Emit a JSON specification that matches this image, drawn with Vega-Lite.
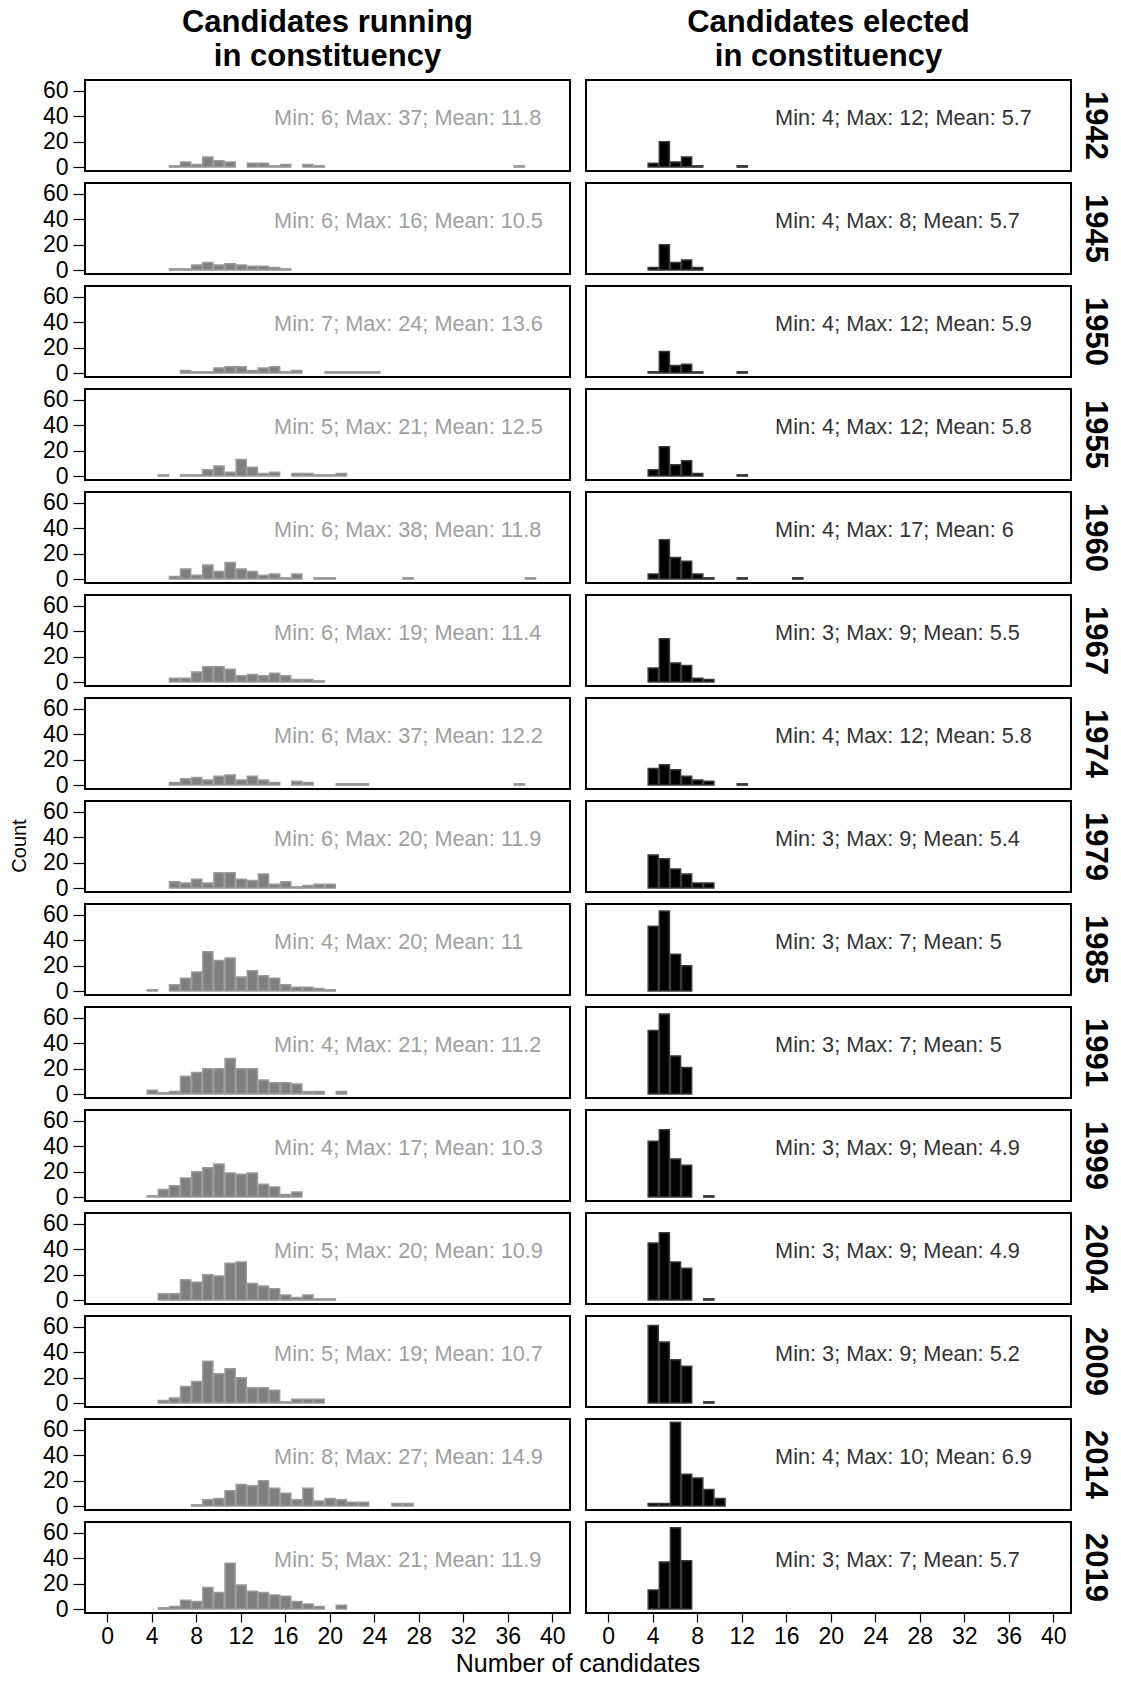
{
"$schema": "https://vega.github.io/schema/vega-lite/v6.json",
"background": "white",
"bounds": "flush",
"padding": {"left": 10, "top": 7, "right": 2, "bottom": 0},
"data": {"values": [
{"year":1942,"type":"running","candidates":6,"count":1},{"year":1942,"type":"running","candidates":7,"count":4},{"year":1942,"type":"running","candidates":8,"count":2},{"year":1942,"type":"running","candidates":9,"count":8},{"year":1942,"type":"running","candidates":10,"count":5},{"year":1942,"type":"running","candidates":11,"count":4},{"year":1942,"type":"running","candidates":13,"count":3},{"year":1942,"type":"running","candidates":14,"count":3},{"year":1942,"type":"running","candidates":15,"count":1},{"year":1942,"type":"running","candidates":16,"count":2},{"year":1942,"type":"running","candidates":18,"count":2},{"year":1942,"type":"running","candidates":19,"count":1},{"year":1942,"type":"running","candidates":37,"count":1},
{"year":1945,"type":"running","candidates":6,"count":1},{"year":1945,"type":"running","candidates":7,"count":1},{"year":1945,"type":"running","candidates":8,"count":4},{"year":1945,"type":"running","candidates":9,"count":6},{"year":1945,"type":"running","candidates":10,"count":4},{"year":1945,"type":"running","candidates":11,"count":5},{"year":1945,"type":"running","candidates":12,"count":4},{"year":1945,"type":"running","candidates":13,"count":3},{"year":1945,"type":"running","candidates":14,"count":3},{"year":1945,"type":"running","candidates":15,"count":2},{"year":1945,"type":"running","candidates":16,"count":1},
{"year":1950,"type":"running","candidates":7,"count":2},{"year":1950,"type":"running","candidates":8,"count":1},{"year":1950,"type":"running","candidates":9,"count":1},{"year":1950,"type":"running","candidates":10,"count":4},{"year":1950,"type":"running","candidates":11,"count":5},{"year":1950,"type":"running","candidates":12,"count":5},{"year":1950,"type":"running","candidates":13,"count":2},{"year":1950,"type":"running","candidates":14,"count":4},{"year":1950,"type":"running","candidates":15,"count":5},{"year":1950,"type":"running","candidates":16,"count":1},{"year":1950,"type":"running","candidates":17,"count":2},{"year":1950,"type":"running","candidates":20,"count":1},{"year":1950,"type":"running","candidates":21,"count":1},{"year":1950,"type":"running","candidates":22,"count":1},{"year":1950,"type":"running","candidates":23,"count":1},{"year":1950,"type":"running","candidates":24,"count":1},
{"year":1955,"type":"running","candidates":5,"count":1},{"year":1955,"type":"running","candidates":7,"count":1},{"year":1955,"type":"running","candidates":8,"count":1},{"year":1955,"type":"running","candidates":9,"count":5},{"year":1955,"type":"running","candidates":10,"count":8},{"year":1955,"type":"running","candidates":11,"count":3},{"year":1955,"type":"running","candidates":12,"count":13},{"year":1955,"type":"running","candidates":13,"count":7},{"year":1955,"type":"running","candidates":14,"count":2},{"year":1955,"type":"running","candidates":15,"count":3},{"year":1955,"type":"running","candidates":17,"count":2},{"year":1955,"type":"running","candidates":18,"count":2},{"year":1955,"type":"running","candidates":19,"count":1},{"year":1955,"type":"running","candidates":20,"count":1},{"year":1955,"type":"running","candidates":21,"count":2},
{"year":1960,"type":"running","candidates":6,"count":2},{"year":1960,"type":"running","candidates":7,"count":8},{"year":1960,"type":"running","candidates":8,"count":3},{"year":1960,"type":"running","candidates":9,"count":11},{"year":1960,"type":"running","candidates":10,"count":6},{"year":1960,"type":"running","candidates":11,"count":13},{"year":1960,"type":"running","candidates":12,"count":8},{"year":1960,"type":"running","candidates":13,"count":6},{"year":1960,"type":"running","candidates":14,"count":3},{"year":1960,"type":"running","candidates":15,"count":4},{"year":1960,"type":"running","candidates":16,"count":1},{"year":1960,"type":"running","candidates":17,"count":4},{"year":1960,"type":"running","candidates":19,"count":1},{"year":1960,"type":"running","candidates":20,"count":1},{"year":1960,"type":"running","candidates":27,"count":1},{"year":1960,"type":"running","candidates":38,"count":1},
{"year":1967,"type":"running","candidates":6,"count":3},{"year":1967,"type":"running","candidates":7,"count":3},{"year":1967,"type":"running","candidates":8,"count":8},{"year":1967,"type":"running","candidates":9,"count":12},{"year":1967,"type":"running","candidates":10,"count":12},{"year":1967,"type":"running","candidates":11,"count":10},{"year":1967,"type":"running","candidates":12,"count":5},{"year":1967,"type":"running","candidates":13,"count":6},{"year":1967,"type":"running","candidates":14,"count":5},{"year":1967,"type":"running","candidates":15,"count":7},{"year":1967,"type":"running","candidates":16,"count":5},{"year":1967,"type":"running","candidates":17,"count":2},{"year":1967,"type":"running","candidates":18,"count":2},{"year":1967,"type":"running","candidates":19,"count":1},
{"year":1974,"type":"running","candidates":6,"count":2},{"year":1974,"type":"running","candidates":7,"count":5},{"year":1974,"type":"running","candidates":8,"count":6},{"year":1974,"type":"running","candidates":9,"count":4},{"year":1974,"type":"running","candidates":10,"count":7},{"year":1974,"type":"running","candidates":11,"count":8},{"year":1974,"type":"running","candidates":12,"count":4},{"year":1974,"type":"running","candidates":13,"count":7},{"year":1974,"type":"running","candidates":14,"count":4},{"year":1974,"type":"running","candidates":15,"count":2},{"year":1974,"type":"running","candidates":17,"count":3},{"year":1974,"type":"running","candidates":18,"count":2},{"year":1974,"type":"running","candidates":21,"count":1},{"year":1974,"type":"running","candidates":22,"count":1},{"year":1974,"type":"running","candidates":23,"count":1},{"year":1974,"type":"running","candidates":37,"count":1},
{"year":1979,"type":"running","candidates":6,"count":5},{"year":1979,"type":"running","candidates":7,"count":4},{"year":1979,"type":"running","candidates":8,"count":7},{"year":1979,"type":"running","candidates":9,"count":4},{"year":1979,"type":"running","candidates":10,"count":12},{"year":1979,"type":"running","candidates":11,"count":12},{"year":1979,"type":"running","candidates":12,"count":7},{"year":1979,"type":"running","candidates":13,"count":6},{"year":1979,"type":"running","candidates":14,"count":11},{"year":1979,"type":"running","candidates":15,"count":3},{"year":1979,"type":"running","candidates":16,"count":5},{"year":1979,"type":"running","candidates":17,"count":1},{"year":1979,"type":"running","candidates":18,"count":2},{"year":1979,"type":"running","candidates":19,"count":3},{"year":1979,"type":"running","candidates":20,"count":3},
{"year":1985,"type":"running","candidates":4,"count":1},{"year":1985,"type":"running","candidates":6,"count":5},{"year":1985,"type":"running","candidates":7,"count":10},{"year":1985,"type":"running","candidates":8,"count":15},{"year":1985,"type":"running","candidates":9,"count":31},{"year":1985,"type":"running","candidates":10,"count":24},{"year":1985,"type":"running","candidates":11,"count":26},{"year":1985,"type":"running","candidates":12,"count":11},{"year":1985,"type":"running","candidates":13,"count":16},{"year":1985,"type":"running","candidates":14,"count":12},{"year":1985,"type":"running","candidates":15,"count":10},{"year":1985,"type":"running","candidates":16,"count":5},{"year":1985,"type":"running","candidates":17,"count":3},{"year":1985,"type":"running","candidates":18,"count":3},{"year":1985,"type":"running","candidates":19,"count":2},{"year":1985,"type":"running","candidates":20,"count":1},
{"year":1991,"type":"running","candidates":4,"count":3},{"year":1991,"type":"running","candidates":5,"count":1},{"year":1991,"type":"running","candidates":6,"count":2},{"year":1991,"type":"running","candidates":7,"count":14},{"year":1991,"type":"running","candidates":8,"count":17},{"year":1991,"type":"running","candidates":9,"count":20},{"year":1991,"type":"running","candidates":10,"count":20},{"year":1991,"type":"running","candidates":11,"count":28},{"year":1991,"type":"running","candidates":12,"count":20},{"year":1991,"type":"running","candidates":13,"count":20},{"year":1991,"type":"running","candidates":14,"count":11},{"year":1991,"type":"running","candidates":15,"count":9},{"year":1991,"type":"running","candidates":16,"count":9},{"year":1991,"type":"running","candidates":17,"count":8},{"year":1991,"type":"running","candidates":18,"count":2},{"year":1991,"type":"running","candidates":19,"count":2},{"year":1991,"type":"running","candidates":21,"count":2},
{"year":1999,"type":"running","candidates":4,"count":1},{"year":1999,"type":"running","candidates":5,"count":6},{"year":1999,"type":"running","candidates":6,"count":9},{"year":1999,"type":"running","candidates":7,"count":15},{"year":1999,"type":"running","candidates":8,"count":20},{"year":1999,"type":"running","candidates":9,"count":23},{"year":1999,"type":"running","candidates":10,"count":26},{"year":1999,"type":"running","candidates":11,"count":19},{"year":1999,"type":"running","candidates":12,"count":18},{"year":1999,"type":"running","candidates":13,"count":19},{"year":1999,"type":"running","candidates":14,"count":10},{"year":1999,"type":"running","candidates":15,"count":8},{"year":1999,"type":"running","candidates":16,"count":2},{"year":1999,"type":"running","candidates":17,"count":4},
{"year":2004,"type":"running","candidates":5,"count":5},{"year":2004,"type":"running","candidates":6,"count":5},{"year":2004,"type":"running","candidates":7,"count":16},{"year":2004,"type":"running","candidates":8,"count":14},{"year":2004,"type":"running","candidates":9,"count":20},{"year":2004,"type":"running","candidates":10,"count":19},{"year":2004,"type":"running","candidates":11,"count":29},{"year":2004,"type":"running","candidates":12,"count":30},{"year":2004,"type":"running","candidates":13,"count":13},{"year":2004,"type":"running","candidates":14,"count":11},{"year":2004,"type":"running","candidates":15,"count":9},{"year":2004,"type":"running","candidates":16,"count":4},{"year":2004,"type":"running","candidates":17,"count":2},{"year":2004,"type":"running","candidates":18,"count":4},{"year":2004,"type":"running","candidates":19,"count":1},{"year":2004,"type":"running","candidates":20,"count":1},
{"year":2009,"type":"running","candidates":5,"count":2},{"year":2009,"type":"running","candidates":6,"count":4},{"year":2009,"type":"running","candidates":7,"count":13},{"year":2009,"type":"running","candidates":8,"count":17},{"year":2009,"type":"running","candidates":9,"count":33},{"year":2009,"type":"running","candidates":10,"count":23},{"year":2009,"type":"running","candidates":11,"count":27},{"year":2009,"type":"running","candidates":12,"count":20},{"year":2009,"type":"running","candidates":13,"count":12},{"year":2009,"type":"running","candidates":14,"count":12},{"year":2009,"type":"running","candidates":15,"count":10},{"year":2009,"type":"running","candidates":16,"count":1},{"year":2009,"type":"running","candidates":17,"count":3},{"year":2009,"type":"running","candidates":18,"count":3},{"year":2009,"type":"running","candidates":19,"count":3},
{"year":2014,"type":"running","candidates":8,"count":1},{"year":2014,"type":"running","candidates":9,"count":5},{"year":2014,"type":"running","candidates":10,"count":6},{"year":2014,"type":"running","candidates":11,"count":12},{"year":2014,"type":"running","candidates":12,"count":17},{"year":2014,"type":"running","candidates":13,"count":16},{"year":2014,"type":"running","candidates":14,"count":20},{"year":2014,"type":"running","candidates":15,"count":14},{"year":2014,"type":"running","candidates":16,"count":10},{"year":2014,"type":"running","candidates":17,"count":5},{"year":2014,"type":"running","candidates":18,"count":14},{"year":2014,"type":"running","candidates":19,"count":4},{"year":2014,"type":"running","candidates":20,"count":6},{"year":2014,"type":"running","candidates":21,"count":5},{"year":2014,"type":"running","candidates":22,"count":3},{"year":2014,"type":"running","candidates":23,"count":3},{"year":2014,"type":"running","candidates":26,"count":2},{"year":2014,"type":"running","candidates":27,"count":2},
{"year":2019,"type":"running","candidates":5,"count":1},{"year":2019,"type":"running","candidates":6,"count":2},{"year":2019,"type":"running","candidates":7,"count":7},{"year":2019,"type":"running","candidates":8,"count":6},{"year":2019,"type":"running","candidates":9,"count":17},{"year":2019,"type":"running","candidates":10,"count":13},{"year":2019,"type":"running","candidates":11,"count":36},{"year":2019,"type":"running","candidates":12,"count":19},{"year":2019,"type":"running","candidates":13,"count":14},{"year":2019,"type":"running","candidates":14,"count":13},{"year":2019,"type":"running","candidates":15,"count":11},{"year":2019,"type":"running","candidates":16,"count":10},{"year":2019,"type":"running","candidates":17,"count":6},{"year":2019,"type":"running","candidates":18,"count":4},{"year":2019,"type":"running","candidates":19,"count":2},{"year":2019,"type":"running","candidates":21,"count":3},
{"year":1942,"type":"elected","candidates":4,"count":3},{"year":1942,"type":"elected","candidates":5,"count":20},{"year":1942,"type":"elected","candidates":6,"count":4},{"year":1942,"type":"elected","candidates":7,"count":8},{"year":1942,"type":"elected","candidates":8,"count":1},{"year":1942,"type":"elected","candidates":12,"count":1},
{"year":1945,"type":"elected","candidates":4,"count":2},{"year":1945,"type":"elected","candidates":5,"count":20},{"year":1945,"type":"elected","candidates":6,"count":6},{"year":1945,"type":"elected","candidates":7,"count":8},{"year":1945,"type":"elected","candidates":8,"count":2},
{"year":1950,"type":"elected","candidates":4,"count":1},{"year":1950,"type":"elected","candidates":5,"count":17},{"year":1950,"type":"elected","candidates":6,"count":6},{"year":1950,"type":"elected","candidates":7,"count":7},{"year":1950,"type":"elected","candidates":8,"count":1},{"year":1950,"type":"elected","candidates":12,"count":1},
{"year":1955,"type":"elected","candidates":4,"count":5},{"year":1955,"type":"elected","candidates":5,"count":23},{"year":1955,"type":"elected","candidates":6,"count":9},{"year":1955,"type":"elected","candidates":7,"count":12},{"year":1955,"type":"elected","candidates":8,"count":2},{"year":1955,"type":"elected","candidates":12,"count":1},
{"year":1960,"type":"elected","candidates":4,"count":4},{"year":1960,"type":"elected","candidates":5,"count":31},{"year":1960,"type":"elected","candidates":6,"count":17},{"year":1960,"type":"elected","candidates":7,"count":14},{"year":1960,"type":"elected","candidates":8,"count":4},{"year":1960,"type":"elected","candidates":9,"count":1},{"year":1960,"type":"elected","candidates":12,"count":1},{"year":1960,"type":"elected","candidates":17,"count":1},
{"year":1967,"type":"elected","candidates":3,"count":1},{"year":1967,"type":"elected","candidates":4,"count":11},{"year":1967,"type":"elected","candidates":5,"count":34},{"year":1967,"type":"elected","candidates":6,"count":15},{"year":1967,"type":"elected","candidates":7,"count":13},{"year":1967,"type":"elected","candidates":8,"count":3},{"year":1967,"type":"elected","candidates":9,"count":2},
{"year":1974,"type":"elected","candidates":4,"count":13},{"year":1974,"type":"elected","candidates":5,"count":16},{"year":1974,"type":"elected","candidates":6,"count":12},{"year":1974,"type":"elected","candidates":7,"count":7},{"year":1974,"type":"elected","candidates":8,"count":4},{"year":1974,"type":"elected","candidates":9,"count":3},{"year":1974,"type":"elected","candidates":12,"count":1},
{"year":1979,"type":"elected","candidates":3,"count":3},{"year":1979,"type":"elected","candidates":4,"count":26},{"year":1979,"type":"elected","candidates":5,"count":23},{"year":1979,"type":"elected","candidates":6,"count":15},{"year":1979,"type":"elected","candidates":7,"count":11},{"year":1979,"type":"elected","candidates":8,"count":4},{"year":1979,"type":"elected","candidates":9,"count":4},
{"year":1985,"type":"elected","candidates":3,"count":12},{"year":1985,"type":"elected","candidates":4,"count":51},{"year":1985,"type":"elected","candidates":5,"count":63},{"year":1985,"type":"elected","candidates":6,"count":29},{"year":1985,"type":"elected","candidates":7,"count":20},
{"year":1991,"type":"elected","candidates":3,"count":12},{"year":1991,"type":"elected","candidates":4,"count":50},{"year":1991,"type":"elected","candidates":5,"count":63},{"year":1991,"type":"elected","candidates":6,"count":30},{"year":1991,"type":"elected","candidates":7,"count":21},
{"year":1999,"type":"elected","candidates":3,"count":26},{"year":1999,"type":"elected","candidates":4,"count":44},{"year":1999,"type":"elected","candidates":5,"count":53},{"year":1999,"type":"elected","candidates":6,"count":30},{"year":1999,"type":"elected","candidates":7,"count":25},{"year":1999,"type":"elected","candidates":9,"count":1},
{"year":2004,"type":"elected","candidates":3,"count":27},{"year":2004,"type":"elected","candidates":4,"count":45},{"year":2004,"type":"elected","candidates":5,"count":53},{"year":2004,"type":"elected","candidates":6,"count":30},{"year":2004,"type":"elected","candidates":7,"count":25},{"year":2004,"type":"elected","candidates":9,"count":1},
{"year":2009,"type":"elected","candidates":3,"count":2},{"year":2009,"type":"elected","candidates":4,"count":61},{"year":2009,"type":"elected","candidates":5,"count":48},{"year":2009,"type":"elected","candidates":6,"count":34},{"year":2009,"type":"elected","candidates":7,"count":29},{"year":2009,"type":"elected","candidates":9,"count":1},
{"year":2014,"type":"elected","candidates":4,"count":2},{"year":2014,"type":"elected","candidates":5,"count":2},{"year":2014,"type":"elected","candidates":6,"count":66},{"year":2014,"type":"elected","candidates":7,"count":25},{"year":2014,"type":"elected","candidates":8,"count":22},{"year":2014,"type":"elected","candidates":9,"count":13},{"year":2014,"type":"elected","candidates":10,"count":6},
{"year":2019,"type":"elected","candidates":3,"count":5},{"year":2019,"type":"elected","candidates":4,"count":15},{"year":2019,"type":"elected","candidates":5,"count":37},{"year":2019,"type":"elected","candidates":6,"count":64},{"year":2019,"type":"elected","candidates":7,"count":38},
{"year":1942,"type":"running","label":"Min: 6; Max: 37; Mean: 11.8"},{"year":1945,"type":"running","label":"Min: 6; Max: 16; Mean: 10.5"},{"year":1950,"type":"running","label":"Min: 7; Max: 24; Mean: 13.6"},{"year":1955,"type":"running","label":"Min: 5; Max: 21; Mean: 12.5"},{"year":1960,"type":"running","label":"Min: 6; Max: 38; Mean: 11.8"},{"year":1967,"type":"running","label":"Min: 6; Max: 19; Mean: 11.4"},{"year":1974,"type":"running","label":"Min: 6; Max: 37; Mean: 12.2"},{"year":1979,"type":"running","label":"Min: 6; Max: 20; Mean: 11.9"},{"year":1985,"type":"running","label":"Min: 4; Max: 20; Mean: 11"},{"year":1991,"type":"running","label":"Min: 4; Max: 21; Mean: 11.2"},{"year":1999,"type":"running","label":"Min: 4; Max: 17; Mean: 10.3"},{"year":2004,"type":"running","label":"Min: 5; Max: 20; Mean: 10.9"},{"year":2009,"type":"running","label":"Min: 5; Max: 19; Mean: 10.7"},{"year":2014,"type":"running","label":"Min: 8; Max: 27; Mean: 14.9"},{"year":2019,"type":"running","label":"Min: 5; Max: 21; Mean: 11.9"},
{"year":1942,"type":"elected","label":"Min: 4; Max: 12; Mean: 5.7"},{"year":1945,"type":"elected","label":"Min: 4; Max: 8; Mean: 5.7"},{"year":1950,"type":"elected","label":"Min: 4; Max: 12; Mean: 5.9"},{"year":1955,"type":"elected","label":"Min: 4; Max: 12; Mean: 5.8"},{"year":1960,"type":"elected","label":"Min: 4; Max: 17; Mean: 6"},{"year":1967,"type":"elected","label":"Min: 3; Max: 9; Mean: 5.5"},{"year":1974,"type":"elected","label":"Min: 4; Max: 12; Mean: 5.8"},{"year":1979,"type":"elected","label":"Min: 3; Max: 9; Mean: 5.4"},{"year":1985,"type":"elected","label":"Min: 3; Max: 7; Mean: 5"},{"year":1991,"type":"elected","label":"Min: 3; Max: 7; Mean: 5"},{"year":1999,"type":"elected","label":"Min: 3; Max: 9; Mean: 4.9"},{"year":2004,"type":"elected","label":"Min: 3; Max: 9; Mean: 4.9"},{"year":2009,"type":"elected","label":"Min: 3; Max: 9; Mean: 5.2"},{"year":2014,"type":"elected","label":"Min: 4; Max: 10; Mean: 6.9"},{"year":2019,"type":"elected","label":"Min: 3; Max: 7; Mean: 5.7"}
]},
"facet": {
  "row": {"field": "year", "type": "ordinal", "header": {
    "title": "Count", "titleOrient": "left", "titleAngle": -90, "titleFontSize": 20, "titleFontWeight": "normal", "titleFont": "Liberation Sans", "titleColor": "black", "titlePadding": -18,
    "labelOrient": "right", "labelAngle": 90, "labelFontSize": 31, "labelFontWeight": "bold", "labelFont": "Liberation Sans", "labelColor": "black", "labelPadding": 8}},
  "column": {"field": "type", "type": "nominal", "sort": ["running", "elected"], "header": {
    "title": "Number of candidates", "titleOrient": "bottom", "titleFontSize": 25, "titleFontWeight": "normal", "titleFont": "Liberation Sans", "titleColor": "black", "titlePadding": -6,
    "labelOrient": "top", "labelExpr": "datum.value == 'running' ? ['Candidates running', 'in constituency'] : ['Candidates elected', 'in constituency']",
    "labelFontSize": 31, "labelFontWeight": "bold", "labelFont": "Liberation Sans", "labelColor": "black", "labelLineHeight": 34, "labelPadding": 7}}
},
"spacing": {"row": 12, "column": 16},
"spec": {
  "width": 485,
  "height": 90.9,
  "layer": [
    {
      "transform": [{"filter": "isValid(datum.count)"}],
      "mark": {"type": "bar", "strokeWidth": 1.5},
      "encoding": {
        "x": {"field": "candidates", "type": "quantitative", "bin": {"step": 1, "anchor": 0.5, "nice": false},
              "scale": {"domain": [-2, 41.6], "nice": false, "zero": false},
              "axis": {"values": [0,4,8,12,16,20,24,28,32,36,40], "format": "d", "labelOverlap": false}, "title": null},
        "y": {"aggregate": "sum", "field": "count", "type": "quantitative",
              "scale": {"domain": [-3, 68.5], "nice": false, "zero": false},
              "axis": {"values": [0,20,40,60], "tickCount": 4, "labelOverlap": false}, "title": null},
        "fill": {"field": "type", "type": "nominal", "scale": {"domain": ["running", "elected"], "range": ["#7f7f7f", "#000000"]}, "legend": null},
        "stroke": {"field": "type", "type": "nominal", "scale": {"domain": ["running", "elected"], "range": ["#9a9a9a", "#3a3a3a"]}, "legend": null}
      }
    },
    {
      "transform": [{"filter": "isValid(datum.label)"}],
      "mark": {"type": "text", "align": "left", "baseline": "middle", "fontSize": 21.7, "font": "Liberation Sans"},
      "encoding": {
        "x": {"datum": 15, "type": "quantitative", "axis": {"values": [0,4,8,12,16,20,24,28,32,36,40], "format": "d", "labelOverlap": false}, "title": null},
        "y": {"datum": 39, "type": "quantitative", "axis": {"values": [0,20,40,60], "tickCount": 4, "labelOverlap": false}, "title": null},
        "text": {"field": "label"},
        "color": {"field": "type", "type": "nominal", "scale": {"domain": ["running", "elected"], "range": ["#a0a0a0", "#333333"]}, "legend": null}
      }
    }
  ]
},
"config": {
  "view": {"stroke": "black", "strokeWidth": 2},
  "axis": {"grid": false, "domain": false, "tickColor": "black", "tickWidth": 1.2, "labelColor": "black", "labelFontSize": 23, "labelFont": "Liberation Sans", "labelOverlap": false},
  "axisY": {"tickSize": 12, "labelPadding": 5},
  "axisX": {"tickSize": 9, "labelPadding": 3}
}
}
